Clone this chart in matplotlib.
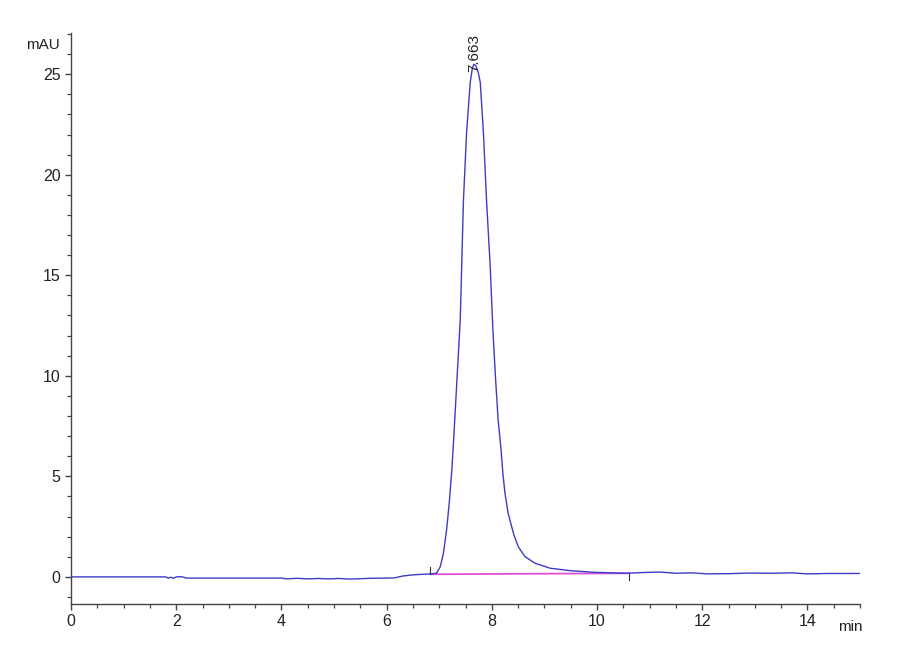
import matplotlib.pyplot as plt
from matplotlib.ticker import MultipleLocator

# chromatogram trace (min, mAU)
time_min = [0.0, 0.5, 1.0, 1.5, 1.8, 1.85, 1.9, 1.95, 2.0, 2.1, 2.2, 2.6, 3.0, 3.5, 4.0,
            4.1, 4.3, 4.5, 4.7, 4.9, 5.1, 5.3, 5.5, 5.7, 6.0, 6.15, 6.3, 6.5, 6.69, 6.83,
            6.95, 7.02, 7.08, 7.14, 7.19, 7.24, 7.28, 7.32, 7.36, 7.40, 7.46, 7.52,
            7.59, 7.63, 7.66, 7.70, 7.74, 7.78, 7.84, 7.90, 7.97, 8.02, 8.07, 8.12,
            8.17, 8.21, 8.25, 8.31, 8.41, 8.50, 8.63, 8.82, 9.11, 9.49, 9.93, 10.56,
            10.9, 11.2, 11.5, 11.8, 12.1, 12.5, 12.9, 13.3, 13.7, 14.0, 14.4, 15.0]
signal_mau = [0.0, 0.0, 0.0, 0.0, 0.0, -0.06, -0.02, -0.07, 0.0, 0.01, -0.06, -0.06, -0.06,
              -0.06, -0.06, -0.1, -0.07, -0.1, -0.08, -0.1, -0.08, -0.11, -0.09, -0.07,
              -0.06, -0.05, 0.04, 0.1, 0.13, 0.15, 0.18, 0.51, 1.18, 2.34, 3.66, 5.32,
              7.1, 9.0, 10.9, 12.8, 18.7, 22.1, 24.6, 25.3, 25.5, 25.4, 25.1, 24.6,
              22.1, 18.7, 15.4, 12.3, 9.9, 7.8, 6.48, 5.15, 4.16, 3.17, 2.17, 1.51,
              1.01, 0.68, 0.43, 0.31, 0.23, 0.18, 0.22, 0.24, 0.18, 0.2, 0.15, 0.16,
              0.19, 0.18, 0.2, 0.15, 0.17, 0.17]

# integration baseline and peak marker
base_start, base_end = 6.83, 10.6
base_levels = [0.13, 0.18]
peak_time = 7.663
peak_label = "7.663"

font = ['Liberation Sans', 'DejaVu Sans']

fig = plt.figure(figsize=(9, 6.6), dpi=100)
ax = fig.add_axes([0.0789, 0.0848, 0.8767, 0.8652])

ax.plot([base_start, base_end], base_levels, color='#e050d8', lw=1.3, zorder=2)
ax.plot(time_min, signal_mau, color='#3c3cc8', lw=1.0, zorder=3)
ax.plot([base_start, base_start], [base_levels[0], base_levels[0] + 0.35], color='#333333', lw=0.8)
ax.plot([base_end, base_end], [base_levels[1], base_levels[1] - 0.35], color='#333333', lw=0.8)

ax.text(peak_time, 25.1, peak_label, rotation=90, ha='center', va='bottom',
        fontsize=11, family=font, color='#222222')

ax.set_xlim(0, 15)
ax.set_ylim(-1.35, 27.05)
ax.xaxis.set_major_locator(MultipleLocator(2))
ax.xaxis.set_minor_locator(MultipleLocator(0.5))
ax.yaxis.set_major_locator(MultipleLocator(5))
ax.yaxis.set_minor_locator(MultipleLocator(1))

for side in ['top', 'right']:
    ax.spines[side].set_visible(False)
for side in ['left', 'bottom']:
    ax.spines[side].set_color('#444444')
    ax.spines[side].set_linewidth(1.0)

ax.tick_params(which='major', length=4.5, width=1.0, color='#444444', labelsize=11.5,
               labelcolor='#222222', pad=3)
ax.tick_params(which='minor', length=3, width=0.9, color='#444444')
for lab in ax.get_xticklabels() + ax.get_yticklabels():
    lab.set_family(font)

fig.text(43 / 900, 1 - 45 / 660, 'mAU', ha='center', va='center', fontsize=11,
         family=font, color='#222222')
fig.text(850 / 900, 1 - 627 / 660, 'min', ha='center', va='center', fontsize=11,
         family=font, color='#222222')

fig.savefig('out.png', dpi=100)
